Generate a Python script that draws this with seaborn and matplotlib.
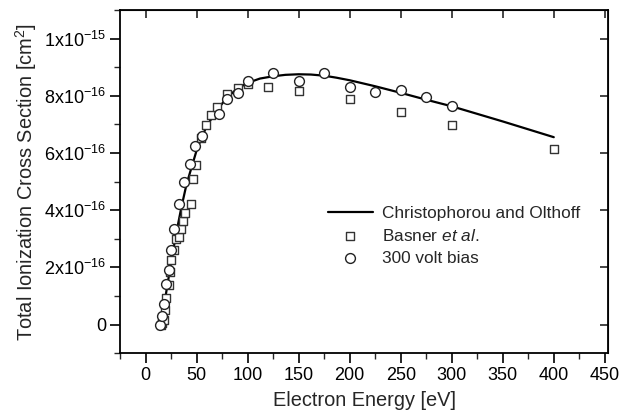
import numpy as np
import pandas as pd
import matplotlib
matplotlib.use('Agg')
import matplotlib.pyplot as plt
import seaborn as sns
from matplotlib.ticker import MultipleLocator

# values in units of 1e-16 cm^2
curve_E = [13, 15, 17, 20, 25, 30, 35, 40, 45, 50, 55, 60, 70, 80, 90, 100,
           112, 125, 137, 150, 162, 175, 187, 200, 225, 250, 275, 300, 350, 400]
curve_Y = [0.0, 0.15, 0.5, 1.1, 2.2, 3.2, 4.1, 4.9, 5.5, 6.1, 6.55, 6.95, 7.5, 7.95, 8.25, 8.45,
           8.6, 8.68, 8.73, 8.75, 8.74, 8.7, 8.63, 8.54, 8.33, 8.1, 7.86, 7.63, 7.1, 6.55]

basner_E = [15, 16, 17.5, 19, 20, 22.5, 24, 25, 28, 30, 32.5, 35, 37, 39, 44, 46, 49,
            54, 59, 64, 70, 80, 90, 100, 120, 150, 200, 250, 300, 400]
basner_Y = [0.0, 0.05, 0.17, 0.52, 0.93, 1.39, 1.85, 2.26, 2.6, 2.99, 3.05, 3.33, 3.63,
            3.9, 4.23, 5.1, 5.57, 6.53, 6.96, 7.34, 7.59, 8.06, 8.27, 8.4, 8.31, 8.15,
            7.9, 7.44, 6.99, 6.12]

bias_E = [14, 16, 18, 20, 22.5, 25, 28, 32.5, 37.5, 43.5, 48.5, 55, 71.5, 80, 90, 100,
          125, 150, 175, 200, 225, 250, 275, 300]
bias_Y = [0.0, 0.3, 0.7, 1.42, 1.9, 2.6, 3.33, 4.23, 4.98, 5.6, 6.23, 6.6, 7.37, 7.9, 8.08,
          8.52, 8.78, 8.52, 8.78, 8.31, 8.14, 8.2, 7.94, 7.63]

y_ticks = [0, 2e-16, 4e-16, 6e-16, 8e-16, 1e-15]
y_tick_labels = ['0', r'2x10$^{-16}$', r'4x10$^{-16}$', r'6x10$^{-16}$',
                 r'8x10$^{-16}$', r'1x10$^{-15}$']

sns.set_style('ticks')
plt.rcParams['font.family'] = ['Liberation Sans', 'DejaVu Sans']
plt.rcParams['mathtext.fontset'] = 'custom'
plt.rcParams['mathtext.rm'] = 'Liberation Sans'
plt.rcParams['mathtext.it'] = 'Liberation Sans:italic'

scale = 1e-16
df_curve = pd.DataFrame({'E': curve_E, 'Y': np.array(curve_Y) * scale})
df_basner = pd.DataFrame({'E': basner_E, 'Y': np.array(basner_Y) * scale})
df_bias = pd.DataFrame({'E': bias_E, 'Y': np.array(bias_Y) * scale})

fig = plt.figure(figsize=(6.26, 4.13), dpi=100)
ax = fig.add_axes([0.192, 0.145, 0.779, 0.831])

sns.lineplot(data=df_curve, x='E', y='Y', ax=ax, color='black', linewidth=1.6,
             label='Christophorou and Olthoff', zorder=3)
sns.scatterplot(data=df_basner, x='E', y='Y', ax=ax, marker='s', s=40,
                facecolor='white', edgecolor='#333333', linewidth=1.0,
                label=r'Basner $et\ al.$', zorder=4)
sns.scatterplot(data=df_bias, x='E', y='Y', ax=ax, marker='o', s=50,
                facecolor='white', edgecolor='#222222', linewidth=1.0,
                label='300 volt bias', zorder=5)

ax.set_xlim(-25, 453)
ax.set_ylim(-1e-16, 1.1e-15)
ax.xaxis.set_major_locator(MultipleLocator(50))
ax.xaxis.set_minor_locator(MultipleLocator(25))
ax.set_yticks(y_ticks)
ax.set_yticklabels(y_tick_labels)
ax.yaxis.set_minor_locator(MultipleLocator(1e-16))

for s in ax.spines.values():
    s.set_linewidth(1.3)
    s.set_color('black')
ax.tick_params(which='major', direction='out', length=7, width=1.2, labelsize=13,
               colors='black', pad=3)
ax.tick_params(which='minor', direction='out', length=4, width=1.0)

# mirrored inward ticks on top and right
top = ax.secondary_xaxis('top')
top.set_xticks(np.arange(0, 451, 50))
top.tick_params(direction='in', length=6, width=1.2, labeltop=False)
right = ax.secondary_yaxis('right')
right.set_yticks(y_ticks)
right.tick_params(direction='in', length=6, width=1.2, labelright=False)

ax.set_xlabel('Electron Energy [eV]', fontsize=14.4, labelpad=5)
ax.set_ylabel(r'Total Ionization Cross Section [cm$^2$]', fontsize=14.4, labelpad=4)

leg = ax.legend(loc='upper left', bbox_to_anchor=(0.426, 0.428), frameon=False,
                fontsize=12.4, handlelength=2.6, handletextpad=0.55,
                labelspacing=0.39, borderaxespad=0, borderpad=0)

fig.savefig('out.png', dpi=100)
